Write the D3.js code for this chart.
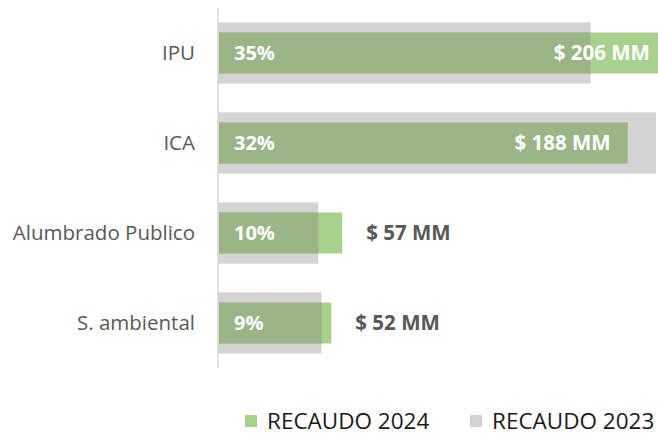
<!DOCTYPE html>
<html>
<head>
<meta charset="utf-8">
<script src="https://cdn.jsdelivr.net/npm/d3@7"></script>
<style>
  body { margin: 0; background: #fff; }
  text { font-family: "Open Sans", sans-serif; }
</style>
</head>
<body>
<div id="chart"></div>
<script>
// data
const categories = ["IPU", "ICA", "Alumbrado Publico", "S. ambiental"];
const recaudo2024 = [206, 188, 57, 52];
const recaudo2023 = [171, 201, 46, 47.5];
const shares = ["35%", "32%", "10%", "9%"];
const seriesNames = ["RECAUDO 2024", "RECAUDO 2023"];

const W = 658, H = 435;
const margin = { top: 8, right: 0, bottom: 67, left: 218 };

const svg = d3
  .select("#chart")
  .append("svg")
  .attr("width", W)
  .attr("height", H)
  .style("display", "block");

const x = d3.scaleLinear().domain([0, 201]).range([margin.left, margin.left + 438]);
const y = d3
  .scaleBand()
  .domain(categories)
  .range([margin.top, H - margin.bottom])
  .padding(0);

const grayH = y.step() * 0.68,
  greenH = y.step() * 0.455;
const cy = (c) => y(c) + y.bandwidth() / 2;

const rows = categories.map((c, i) => ({
  cat: c,
  v24: recaudo2024[i],
  v23: recaudo2023[i],
  share: shares[i],
}));

// 2023 bars (gray, behind)
svg
  .selectAll(".b23")
  .data(rows)
  .join("rect")
  .attr("x", x(0))
  .attr("y", (d) => cy(d.cat) - grayH / 2)
  .attr("width", (d) => x(d.v23) - x(0))
  .attr("height", grayH)
  .attr("fill", "#d4d4d4");

// 2024 bars
svg
  .selectAll(".b24")
  .data(rows)
  .join("rect")
  .attr("x", x(0) + 1)
  .attr("y", (d) => cy(d.cat) - greenH / 2)
  .attr("width", (d) => x(d.v24) - x(0) - 1)
  .attr("height", greenH)
  .attr("fill", "#a9d18e");

// part of the 2024 bar that sits over the gray one looks darker
svg
  .selectAll(".ov")
  .data(rows)
  .join("rect")
  .attr("x", x(0) + 1)
  .attr("y", (d) => cy(d.cat) - greenH / 2)
  .attr("width", (d) => x(Math.min(d.v24, d.v23)) - x(0) - 1)
  .attr("height", greenH)
  .attr("fill", "#9bb587");

// axis line
svg
  .append("line")
  .attr("x1", margin.left)
  .attr("x2", margin.left)
  .attr("y1", margin.top)
  .attr("y2", H - margin.bottom)
  .attr("stroke", "#d9d9d9")
  .attr("stroke-width", 1.5);

// category labels
svg
  .selectAll(".cat")
  .data(rows)
  .join("text")
  .attr("x", margin.left - 23)
  .attr("y", (d) => cy(d.cat))
  .attr("dy", "0.35em")
  .attr("text-anchor", "end")
  .attr("font-size", 20.5)
  .attr("fill", "#595959")
  .text((d) => d.cat);

// share labels
svg
  .selectAll(".share")
  .data(rows)
  .join("text")
  .attr("x", x(0) + 16)
  .attr("y", (d) => cy(d.cat))
  .attr("dy", "0.36em")
  .attr("font-size", 20)
  .attr("font-weight", "bold")
  .attr("fill", "#fff")
  .text((d) => d.share);

// value labels: inside end for big bars, outside for small ones
svg
  .selectAll(".val")
  .data(rows)
  .join("text")
  .attr("x", (d) => (d.v24 > 100 ? x(d.v24) - 17 : x(d.v24) + 24))
  .attr("y", (d) => cy(d.cat))
  .attr("dy", "0.36em")
  .attr("text-anchor", (d) => (d.v24 > 100 ? "end" : "start"))
  .attr("font-size", 20.5)
  .attr("font-weight", "bold")
  .attr("fill", (d) => (d.v24 > 100 ? "#fff" : "#595959"))
  .text((d) => `$ ${d.v24} MM`);

// legend
const legend = svg
  .selectAll(".leg")
  .data(seriesNames)
  .join("g")
  .attr("transform", (d, i) => `translate(${245 + i * 225},415)`);
legend
  .append("rect")
  .attr("width", 12)
  .attr("height", 12)
  .attr("fill", (d, i) => (i === 0 ? "#a9d18e" : "#d4d4d4"));
legend
  .append("text")
  .attr("x", 22)
  .attr("y", 6)
  .attr("dy", "0.36em")
  .attr("font-size", 22.5)
  .attr("fill", "#1a1a1a")
  .text((d) => d);
</script>
</body>
</html>
